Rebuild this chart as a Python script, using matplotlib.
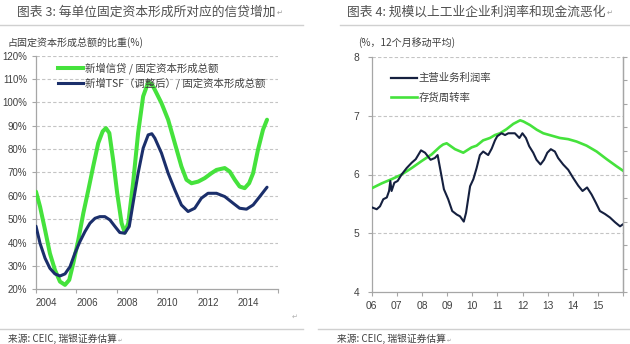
import matplotlib
matplotlib.use("Agg")
import matplotlib.pyplot as plt
import numpy as np

plt.rcParams['font.family'] = ['Liberation Sans', 'Noto Sans CJK SC', 'DejaVu Sans']
CJK = ['Noto Sans CJK SC', 'DejaVu Sans']

# ---------------- Left chart data ----------------
left_title = "图表 3: 每单位固定资本形成所对应的信贷增加"
left_ylabel = "占固定资本形成总额的比重(%)"
left_series_names = ["新增信贷 / 固定资本形成总额", "新增TSF（调整后）/ 固定资本形成总额"]
left_xticks = [2004, 2006, 2008, 2010, 2012, 2014, 2016]
left_xticklabels = ["2004", "2006", "2008", "2010", "2012", "2014", ""]
left_yticks = [20, 30, 40, 50, 60, 70, 80, 90, 100, 110, 120]

credit_x = [2004.0, 2004.2, 2004.45, 2004.69, 2004.94, 2005.19, 2005.44, 2005.65, 2005.85,
            2006.1, 2006.35, 2006.6, 2006.84, 2007.09, 2007.31, 2007.47, 2007.64, 2007.83,
            2008.03, 2008.25, 2008.41, 2008.58, 2008.82, 2009.07, 2009.32, 2009.57, 2009.75,
            2009.9, 2010.23, 2010.56, 2010.89, 2011.22, 2011.47, 2011.72, 2012.05, 2012.38,
            2012.71, 2012.96, 2013.37, 2013.62, 2013.87, 2014.11, 2014.36, 2014.58, 2014.78,
            2015.02, 2015.27, 2015.47]
credit_y = [61.8, 55.4, 45.4, 35.4, 28.3, 23.3, 21.9, 24.0, 31.1,
            41.1, 52.6, 62.6, 72.6, 82.6, 87.6, 89.0, 86.9, 75.4,
            61.2, 48.3, 44.3, 48.3, 65.4, 86.9, 102.6, 108.6, 107.8,
            105.4, 99.7, 92.6, 82.6, 72.6, 66.9, 65.4, 66.1, 67.6,
            69.7, 71.1, 71.9, 70.4, 66.9, 64.0, 63.3, 65.4, 69.7,
            79.7, 88.3, 92.6]

tsf_x = [2004.0, 2004.2, 2004.45, 2004.69, 2004.94, 2005.19, 2005.44, 2005.69, 2005.93,
         2006.18, 2006.43, 2006.68, 2006.93, 2007.17, 2007.42, 2007.67, 2007.92, 2008.16,
         2008.41, 2008.63, 2008.82, 2009.07, 2009.32, 2009.57, 2009.75, 2009.9, 2010.23,
         2010.56, 2010.89, 2011.22, 2011.55, 2011.88, 2012.21, 2012.54, 2012.96, 2013.37,
         2013.78, 2014.11, 2014.45, 2014.78, 2015.11, 2015.47]
tsf_y = [47.0, 39.7, 33.3, 29.0, 26.6, 25.7, 26.6, 29.7, 35.4,
         40.4, 44.7, 48.3, 50.4, 51.1, 51.1, 49.7, 46.9, 44.3,
         44.0, 46.9, 56.9, 69.7, 80.4, 86.1, 86.6, 84.7, 78.3,
         69.7, 62.6, 56.1, 53.3, 54.7, 59.0, 61.1, 61.1, 59.7,
         56.9, 54.7, 54.3, 56.1, 59.7, 63.7]

# ---------------- Right chart data ----------------
right_title = "图表 4: 规模以上工业企业利润率和现金流恶化"
right_ylabel = "(%，12个月移动平均)"
right_series_names = ["主营业务利润率", "存货周转率"]
right_xticks = [2006, 2007, 2008, 2009, 2010, 2011, 2012, 2013, 2014, 2015, 2016]
right_xticklabels = ["06", "07", "08", "09", "10", "11", "12", "13", "14", "15", ""]
right_yticks = [4, 5, 6, 7, 8]

margin_x = [2006.02, 2006.2, 2006.33, 2006.46, 2006.6, 2006.69, 2006.74, 2006.79, 2006.9,
            2007.03, 2007.19, 2007.39, 2007.59, 2007.75, 2007.96, 2008.12, 2008.34, 2008.51,
            2008.62, 2008.75, 2008.87, 2009.04, 2009.2, 2009.38, 2009.51, 2009.66, 2009.75,
            2009.91, 2010.04, 2010.17, 2010.3, 2010.43, 2010.63, 2010.77, 2010.9, 2010.99,
            2011.16, 2011.3, 2011.43, 2011.69, 2011.87, 2011.99, 2012.13, 2012.26, 2012.42,
            2012.55, 2012.71, 2012.85, 2012.98, 2013.12, 2013.28, 2013.41, 2013.61, 2013.81,
            2014.01, 2014.21, 2014.38, 2014.56, 2014.74, 2014.91, 2015.07, 2015.27, 2015.47,
            2015.67, 2015.87, 2015.97]
margin_y = [5.44, 5.41, 5.46, 5.58, 5.61, 5.72, 5.89, 5.72, 5.86,
            5.89, 6.00, 6.11, 6.20, 6.26, 6.41, 6.37, 6.25, 6.28,
            6.33, 6.03, 5.75, 5.58, 5.38, 5.32, 5.29, 5.20, 5.35,
            5.80, 5.92, 6.11, 6.33, 6.39, 6.33, 6.44, 6.58, 6.65,
            6.70, 6.67, 6.70, 6.70, 6.62, 6.70, 6.62, 6.48, 6.37,
            6.25, 6.17, 6.25, 6.37, 6.43, 6.39, 6.28, 6.17, 6.08,
            5.94, 5.81, 5.72, 5.78, 5.66, 5.52, 5.38, 5.33, 5.27,
            5.19, 5.12, 5.15]

turnover_x = [2006.02, 2006.4, 2006.79, 2007.19, 2007.59, 2007.99, 2008.38, 2008.71, 2008.84,
              2008.98, 2009.31, 2009.64, 2009.97, 2010.17, 2010.43, 2010.7, 2010.9, 2011.1,
              2011.36, 2011.63, 2011.9, 2012.03, 2012.29, 2012.56, 2012.82, 2013.15, 2013.48,
              2013.81, 2014.14, 2014.54, 2014.94, 2015.34, 2015.73, 2015.97]
turnover_y = [5.77, 5.85, 5.92, 6.00, 6.11, 6.23, 6.34, 6.47, 6.51,
              6.53, 6.43, 6.37, 6.46, 6.49, 6.58, 6.62, 6.67, 6.70,
              6.77, 6.86, 6.92, 6.90, 6.84, 6.76, 6.70, 6.66, 6.62,
              6.60, 6.56, 6.49, 6.39, 6.26, 6.14, 6.07]

source_text = "来源: CEIC, 瑞银证券估算"

# ---------------- Styles ----------------
GREEN = '#45e23c'
NAVY_L = '#1b2f6b'
NAVY_R = '#15203f'
GRID = '#c4c4c4'
SPINE = '#a6a6a6'
TXT = '#404040'
W, H = 630, 344

fig = plt.figure(figsize=(W / 100, H / 100), dpi=100)


def ax_rect(x0, y0, x1, y1):
    return [x0 / W, 1 - y1 / H, (x1 - x0) / W, (y1 - y0) / H]


def fxy(x, y):
    return x / W, 1 - y / H


# ---------- Left axes ----------
axL = fig.add_axes(ax_rect(36, 55.7, 277.7, 289.3))
axL.plot(credit_x, credit_y, color=GREEN, lw=2.9, solid_joinstyle='round',
         solid_capstyle='round', label=left_series_names[0], zorder=3)
axL.plot(tsf_x, tsf_y, color=NAVY_L, lw=2.2, solid_joinstyle='round',
         solid_capstyle='round', label=left_series_names[1], zorder=4)
axL.set_xlim(2004, 2016)
axL.set_ylim(20, 120)
axL.set_yticks(left_yticks)
axL.set_yticklabels([f"{v}%" for v in left_yticks])
axL.set_xticks(left_xticks)
axL.set_xticklabels(left_xticklabels, ha='left')
for v in left_yticks[1:]:
    axL.axhline(v, color=GRID, lw=0.8, ls=(0, (3, 2)), zorder=1)
for s in ['top', 'right']:
    axL.spines[s].set_visible(False)
for s in ['left', 'bottom']:
    axL.spines[s].set_color(SPINE)
    axL.spines[s].set_linewidth(0.9)
axL.tick_params(axis='both', colors=SPINE, labelcolor=TXT, labelsize=7.0, length=3, width=0.8)
axL.tick_params(axis='y', pad=3.5)
axL.tick_params(axis='x', pad=3)
axL.set_facecolor('none')

# left legend (manual, Excel-like)
fig.add_artist(plt.Line2D([58.3 / W, 83.3 / W], [1 - 68.3 / H] * 2, color=GREEN, lw=2.9))
fig.add_artist(plt.Line2D([58.3 / W, 83.3 / W], [1 - 82.7 / H] * 2, color=NAVY_L, lw=2.2))
fig.text(*fxy(85, 68.3), left_series_names[0], family=CJK, fontsize=7.5, color=TXT, va='center', ha='left')
fig.text(*fxy(85, 82.7), left_series_names[1], family=CJK, fontsize=7.5, color=TXT, va='center', ha='left')

# ---------- Right axes ----------
axR = fig.add_axes(ax_rect(371.7, 56.7, 623.3, 292.3))
axR.plot(turnover_x, turnover_y, color=GREEN, lw=1.9, solid_joinstyle='round',
         label=right_series_names[1], zorder=3)
axR.plot(margin_x, margin_y, color=NAVY_R, lw=1.5, solid_joinstyle='round',
         label=right_series_names[0], zorder=4)
axR.set_xlim(2006, 2016)
axR.set_ylim(4, 8)
axR.set_yticks(right_yticks)
axR.set_yticklabels([str(v) for v in right_yticks])
axR.set_xticks(right_xticks)
axR.set_xticklabels(right_xticklabels)
for v in right_yticks[1:]:
    axR.axhline(v, color=GRID, lw=0.8, ls=(0, (3, 2)), zorder=1)
axR.spines['top'].set_visible(False)
for s in ['left', 'bottom', 'right']:
    axR.spines[s].set_color(SPINE)
    axR.spines[s].set_linewidth(0.9)
axR.tick_params(axis='both', colors=SPINE, labelcolor=TXT, labelsize=7.4, length=3, width=0.8)
axR.tick_params(axis='y', pad=6)
axR.tick_params(axis='x', pad=3)
axR.set_facecolor('none')

axR2 = axR.twinx()
axR2.set_ylim(4, 8)
axR2.set_yticks(np.arange(4, 8.01, 0.4))
axR2.set_yticklabels([])
axR2.tick_params(axis='y', colors=SPINE, length=3, width=0.8)
for s in ['top', 'left', 'bottom']:
    axR2.spines[s].set_visible(False)
axR2.spines['right'].set_color(SPINE)
axR2.spines['right'].set_linewidth(0.9)

# right legend
fig.add_artist(plt.Line2D([391 / W, 416.7 / W], [1 - 77.7 / H] * 2, color=NAVY_R, lw=1.6))
fig.add_artist(plt.Line2D([391 / W, 416.7 / W], [1 - 97.3 / H] * 2, color=GREEN, lw=1.9))
fig.text(*fxy(418.3, 77.7), right_series_names[0], family=CJK, fontsize=7.5, color=TXT, va='center', ha='left')
fig.text(*fxy(418.3, 97.3), right_series_names[1], family=CJK, fontsize=7.5, color=TXT, va='center', ha='left')

# ---------- Titles, labels, rules, sources ----------
fig.canvas.draw()
renderer = fig.canvas.get_renderer()


def text_with_mark(x, y, s, size, color):
    t = fig.text(*fxy(x, y), s, family=CJK, fontsize=size, color=color, va='center', ha='left')
    bb = t.get_window_extent(renderer=renderer)
    fig.text(bb.x1 / W + 1 / W, 1 - (y + 1) / H, "↵", family=CJK, fontsize=size * 0.55,
             color='#9a9a9a', va='center', ha='left')
    return t


text_with_mark(17, 12, left_title, 9.2, '#505050')
text_with_mark(346.7, 12, right_title, 9.2, '#505050')
fig.add_artist(plt.Line2D([0, 303 / W], [1 - 25 / H] * 2, color='#d0d0d0', lw=1.0))
fig.add_artist(plt.Line2D([340 / W, 1], [1 - 25 / H] * 2, color='#d0d0d0', lw=1.0))

fig.text(*fxy(7, 42.3), left_ylabel, family=CJK, fontsize=7.2, color=TXT, va='center', ha='left')
fig.text(*fxy(358, 42.3), right_ylabel, family=CJK, fontsize=7.2, color=TXT, va='center', ha='left')

fig.add_artist(plt.Line2D([0, 303 / W], [1 - 329 / H] * 2, color='#d0d0d0', lw=1.0))
fig.add_artist(plt.Line2D([318 / W, 1], [1 - 328.5 / H] * 2, color='#d0d0d0', lw=1.0))
text_with_mark(8, 339, source_text, 7.0, TXT)
text_with_mark(336.7, 339, source_text, 7.0, TXT)
fig.text(*fxy(295, 317), "↵", family=CJK, fontsize=5, color='#b0b0b0', va='center', ha='center')

fig.savefig("out.png", dpi=100)
